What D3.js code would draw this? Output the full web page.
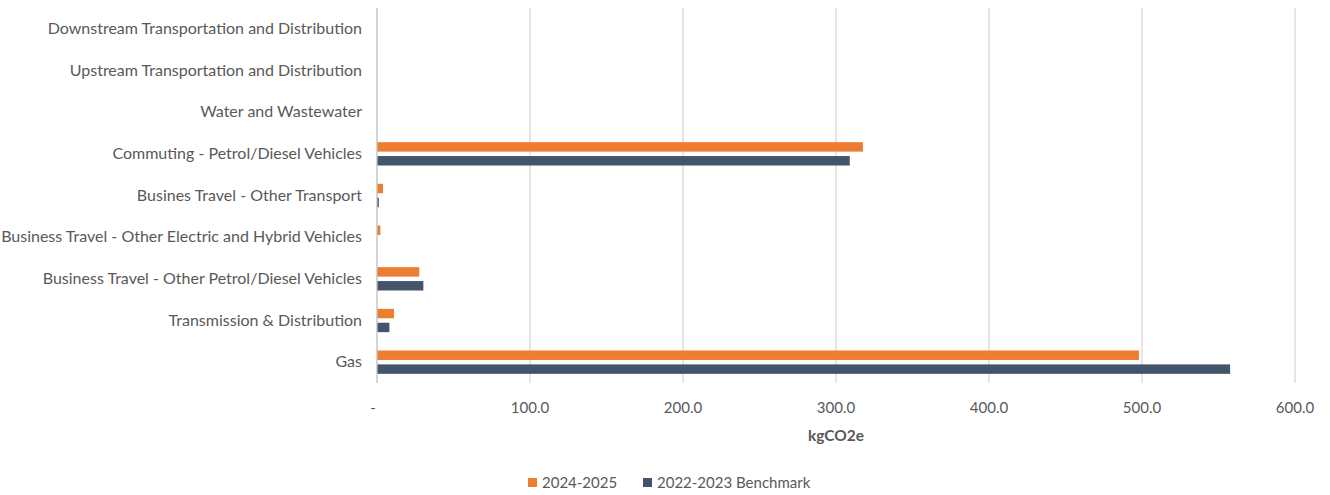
<!DOCTYPE html>
<html lang="en">
<head>
	<meta charset="utf-8">
	<title>kgCO2e by source</title>
	<script src="https://cdn.jsdelivr.net/npm/d3@7"></script>
	<style>
		body { margin: 0; background: #fff; }
		svg text { font-family: Lato, 'Open Sans', sans-serif; fill: #595959; }
	</style>
</head>
<body>
	<div id="viz"></div>
	<script>
	const WIDTH = 1330;
	const HEIGHT = 495;

	// categories, top to bottom
	var categories = [
		'Downstream Transportation and Distribution',
		'Upstream Transportation and Distribution',
		'Water and Wastewater',
		'Commuting - Petrol/Diesel Vehicles',
		'Busines Travel - Other Transport',
		'Business Travel - Other Electric and Hybrid Vehicles',
		'Business Travel - Other Petrol/Diesel Vehicles',
		'Transmission & Distribution',
		'Gas'
	];
	var seriesNames = ['2024-2025', '2022-2023 Benchmark'];
	var current = [0, 0, 0, 317.6, 3.9, 2.2, 27.6, 11.1, 498.0];
	var benchmark = [0, 0, 0, 309.0, 1.2, 0, 30.3, 8.1, 557.6];
	var tickValues = [0, 100, 200, 300, 400, 500, 600];
	var colors = ['#ED7D31', '#44546A'];

	var margin = {left: 377, right: 35, top: 8, bottom: 112};

	var svg = d3.select('#viz').append('svg')
		.attr('width', WIDTH)
		.attr('height', HEIGHT);

	var x = d3.scaleLinear()
		.domain([0, 600])
		.range([margin.left, WIDTH - margin.right]);

	var y0 = d3.scaleBand()
		.domain(categories)
		.range([margin.top, HEIGHT - margin.bottom]);

	var y1 = d3.scaleBand()
		.domain(seriesNames)
		.range([0, y0.bandwidth()])
		.paddingInner(0.32)
		.paddingOuter(0.66);

	// gridlines
	svg.append('g')
		.selectAll('line')
		.data(tickValues.slice(1))
		.enter().append('line')
		.attr('x1', function(d) { return x(d); })
		.attr('x2', function(d) { return x(d); })
		.attr('y1', margin.top)
		.attr('y2', HEIGHT - margin.bottom)
		.attr('stroke', '#d9d9d9')
		.attr('stroke-width', 1.3);

	// bars
	var rows = categories.map(function(c, i) {
		return {cat: c, vals: [current[i], benchmark[i]]};
	});

	var groups = svg.append('g').selectAll('g')
		.data(rows)
		.enter().append('g')
		.attr('transform', function(d) { return 'translate(0,' + y0(d.cat) + ')'; });

	groups.selectAll('rect')
		.data(function(d) { return d.vals.map(function(v, j) { return {s: seriesNames[j], v: v, j: j}; }); })
		.enter().append('rect')
		.filter(function(d) { return d.v > 0; })
		.attr('x', x(0))
		.attr('y', function(d) { return y1(d.s); })
		.attr('width', function(d) { return x(d.v) - x(0); })
		.attr('height', y1.bandwidth())
		.attr('fill', function(d) { return colors[d.j]; });

	// vertical axis line
	svg.append('line')
		.attr('x1', x(0)).attr('x2', x(0))
		.attr('y1', margin.top).attr('y2', HEIGHT - margin.bottom)
		.attr('stroke', '#bfbfbf')
		.attr('stroke-width', 1.3);

	// category labels
	svg.append('g').selectAll('text')
		.data(categories)
		.enter().append('text')
		.attr('x', x(0) - 15)
		.attr('y', function(d) { return y0(d) + y0.bandwidth() / 2; })
		.attr('dy', '0.33em')
		.attr('text-anchor', 'end')
		.style('font-size', '16px')
		.text(function(d) { return d; });

	// x tick labels
	svg.append('g').selectAll('text')
		.data(tickValues)
		.enter().append('text')
		.attr('x', function(d) { return d === 0 ? x(d) - 4 : x(d); })
		.attr('y', 413)
		.attr('text-anchor', 'middle')
		.style('font-size', '15px')
		.text(function(d) { return d === 0 ? '-' : d3.format('.1f')(d); });

	// axis title
	svg.append('text')
		.attr('x', (x(0) + x(600)) / 2)
		.attr('y', 441)
		.attr('text-anchor', 'middle')
		.style('font-size', '15.5px')
		.style('font-weight', 'bold')
		.text('kgCO2e');

	// legend
	var legendX = [528, 643];
	var legend = svg.append('g').selectAll('g')
		.data(seriesNames)
		.enter().append('g')
		.attr('transform', function(d, i) { return 'translate(' + legendX[i] + ',483)'; });

	legend.append('rect')
		.attr('x', 0).attr('y', -5)
		.attr('width', 9).attr('height', 9)
		.attr('fill', function(d, i) { return colors[i]; });

	legend.append('text')
		.attr('x', 14)
		.attr('y', 0)
		.attr('dy', '0.35em')
		.style('font-size', '15px')
		.text(function(d) { return d; });
	</script>
</body>
</html>
